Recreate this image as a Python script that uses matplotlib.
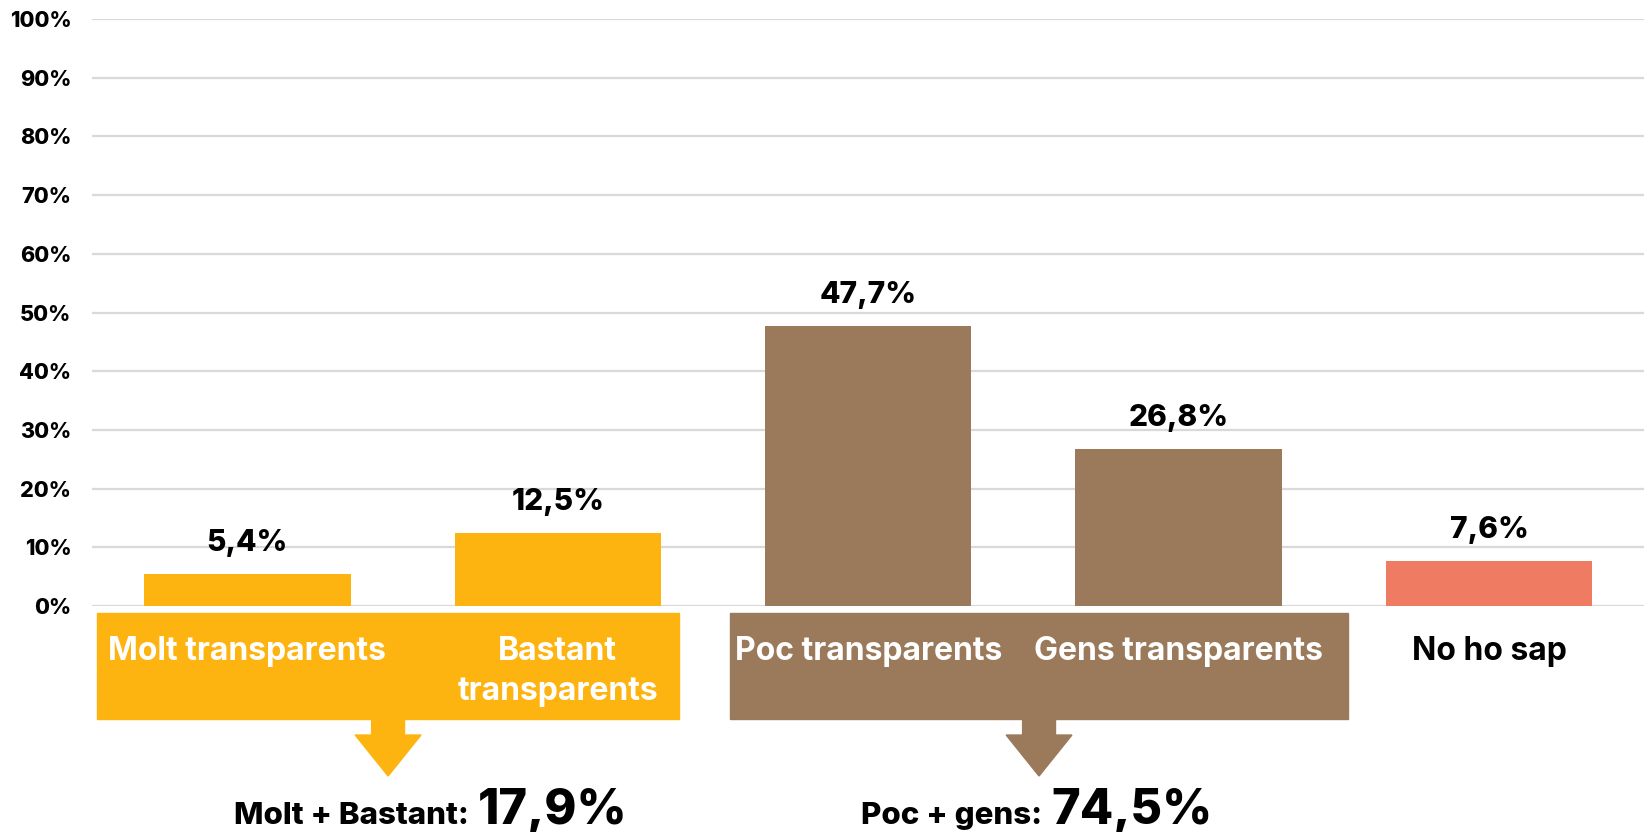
import matplotlib
matplotlib.use("Agg")
import matplotlib.pyplot as plt
from matplotlib.patches import Rectangle, Polygon

plt.rcParams["font.family"] = ["Inter", "DejaVu Sans"]

categories = ["Molt transparents", "Bastant\ntransparents", "Poc transparents",
              "Gens transparents", "No ho sap"]
values = [5.4, 12.5, 47.7, 26.8, 7.6]
value_labels = ["5,4%", "12,5%", "47,7%", "26,8%", "7,6%"]
yticks = list(range(0, 101, 10))
ytick_labels = [f"{t}%" for t in yticks]

# groups: member indices, summary prefix, summary value
groups = [([0, 1], "Molt + Bastant:", "17,9%"),
          ([2, 3], "Poc + gens:", "74,5%")]

YELLOW = "#FEB410"
BROWN = "#9B7A5C"
SALMON = "#EE7B62"
bar_colors = [YELLOW, YELLOW, BROWN, BROWN, SALMON]
group_colors = [YELLOW, BROWN]
# box padding (left, right) in category units, and summary text split offset
group_pads = [(0.484, 0.391), (0.445, 0.546)]
split_offsets = [0.274, 0.025]

fig = plt.figure(figsize=(16.49, 8.32), dpi=100)
ax = fig.add_axes([92.1 / 1649, (832 - 606) / 832, (1644.2 - 92.1) / 1649, (606 - 19) / 832])

x = list(range(len(categories)))
ax.bar(x, values, width=0.665, color=bar_colors, zorder=3)
ax.set_xlim(-0.5, len(categories) - 0.5)
ax.set_ylim(0, 100)
ax.set_yticks(yticks)
ax.set_yticklabels(ytick_labels, fontsize=15.5, fontweight="heavy")
ax.tick_params(axis="y", length=0, pad=15)
ax.set_xticks([])
ax.grid(axis="y", color="#D9D9D9", lw=1.6, zorder=0)
for s in ax.spines.values():
    s.set_visible(False)

for xi, v, lab in zip(x, values, value_labels):
    ax.annotate(lab, (xi, v), xytext=(0, 16.5), textcoords="offset points",
                ha="center", va="baseline", fontsize=21.5, fontweight="heavy")

# category labels
label_y = -9.2
for xi, cat in zip(x, categories):
    in_group = any(xi in g[0] for g in groups)
    lines = cat.split("\n")
    for k, line in enumerate(lines):
        ax.text(xi, label_y - k * 6.8, line, ha="center", va="baseline", fontsize=23,
                fontweight="bold", color="white" if in_group else "black",
                clip_on=False, zorder=5)

box_top, box_bot = -1.2, -19.25
head_top, apex = -21.98, -28.96
stem_hw, head_hw = 0.053, 0.106
for (members, prefix, total), col, (pl, pr), so in zip(groups, group_colors, group_pads, split_offsets):
    x0, x1 = min(members) - pl, max(members) + pr
    ax.add_patch(Rectangle((x0, box_bot), x1 - x0, box_top - box_bot, color=col,
                           clip_on=False, zorder=4))
    xc = (x0 + x1) / 2
    ax.add_patch(Polygon([(xc - stem_hw, box_bot), (xc + stem_hw, box_bot),
                          (xc + stem_hw, head_top), (xc + head_hw, head_top),
                          (xc, apex), (xc - head_hw, head_top),
                          (xc - stem_hw, head_top)],
                         closed=True, color=col, clip_on=False, zorder=4))
    ax.text(xc + so - 0.015, -37.1, prefix, ha="right", va="baseline",
            fontsize=22.5, fontweight="heavy", clip_on=False)
    ax.text(xc + so + 0.015, -37.1, total, ha="left", va="baseline",
            fontsize=35, fontweight="heavy", clip_on=False)

fig.savefig("out.png", dpi=100)
